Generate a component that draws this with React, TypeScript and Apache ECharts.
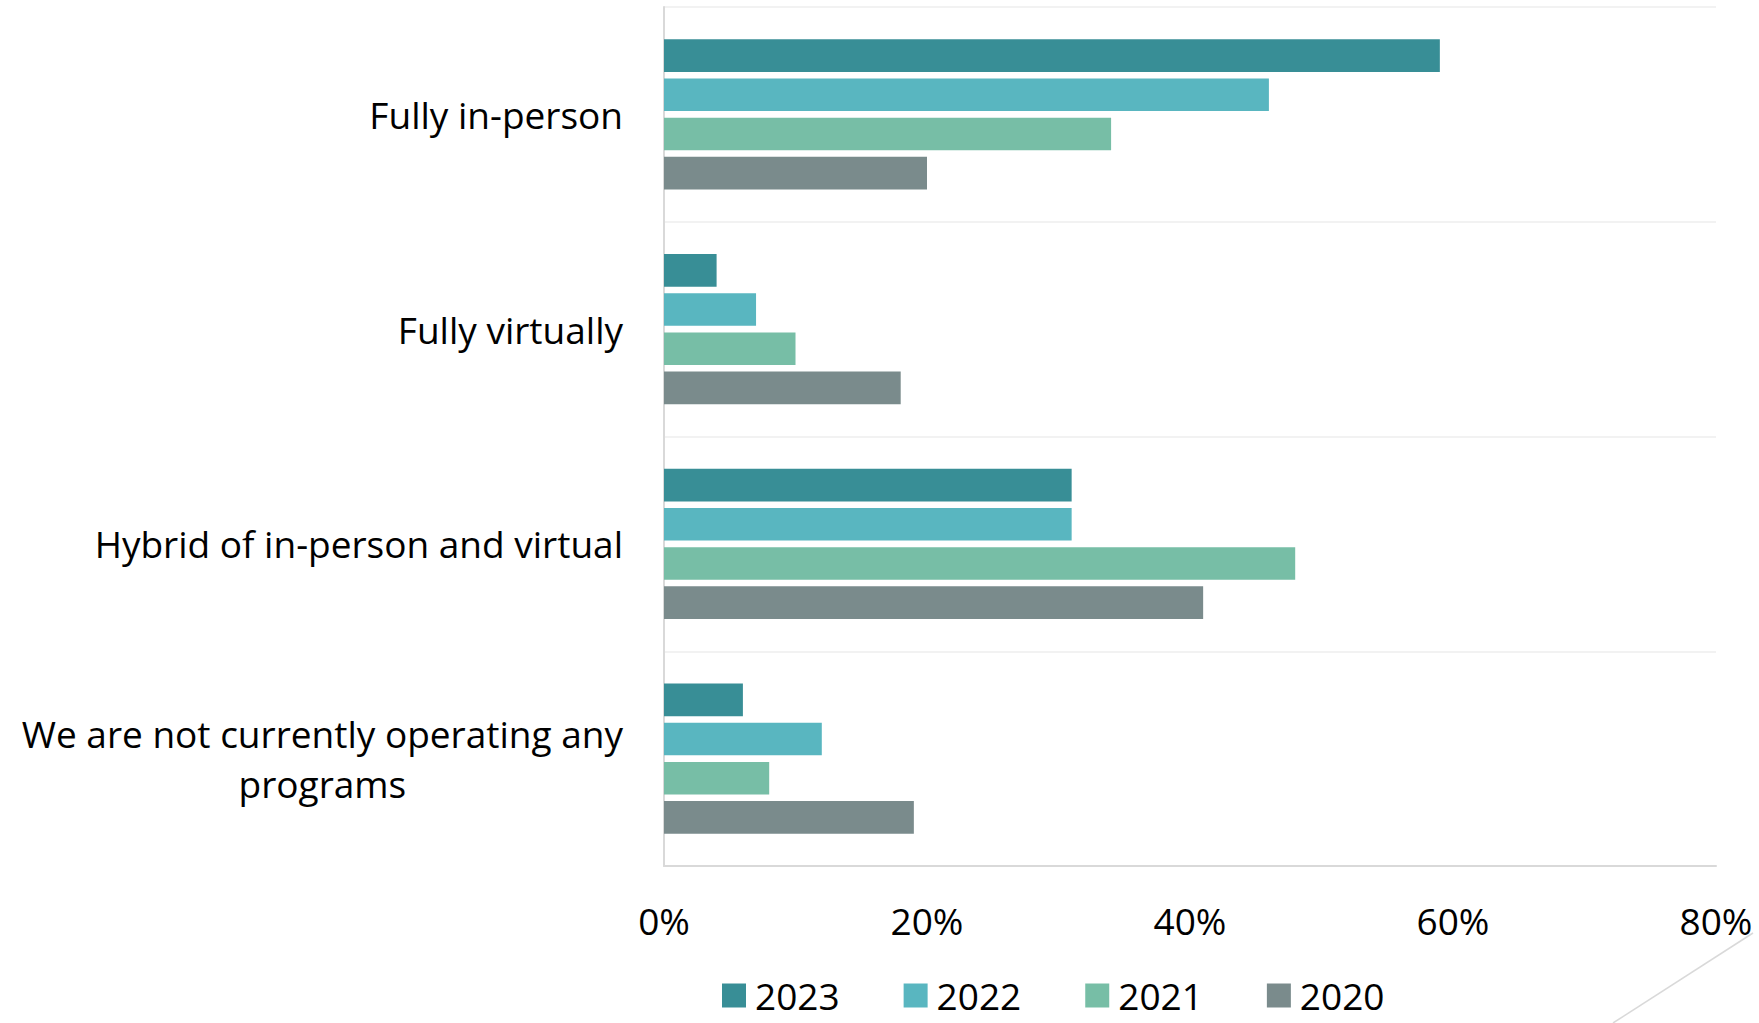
import React, { useEffect, useRef } from "react";
import * as echarts from "echarts";

const categories = [
  "Fully in-person",
  "Fully virtually",
  "Hybrid of in-person and virtual",
  "We are not currently operating any\nprograms",
];
const years = ["2023", "2022", "2021", "2020"];
const values2023 = [59, 4, 31, 6];
const values2022 = [46, 7, 31, 12];
const values2021 = [34, 10, 48, 8];
const values2020 = [20, 18, 41, 19];
const colors = ["#388E96", "#59B6C0", "#77BEA6", "#7A8B8C"];
const xMin = 0;
const xMax = 80;
const xInterval = 20;

const FONT = "Open Sans";

export default function App() {
  const ref = useRef<HTMLDivElement>(null);
  useEffect(() => {
    if (!ref.current) return;
    const chart = echarts.init(ref.current, null, { renderer: "svg" });
    const seriesValues = [values2023, values2022, values2021, values2020];
    chart.setOption({
      animation: false,
      backgroundColor: "#ffffff",
      grid: { left: 664, right: 43, top: 7, bottom: 157, containLabel: false },
      legend: {
        data: years,
        left: 722,
        top: 977,
        padding: 0,
        icon: "rect",
        itemWidth: 24,
        itemHeight: 24,
        itemGap: 64,
        textStyle: {
          fontFamily: FONT,
          fontSize: 37,
          color: "#000",
          lineHeight: 36,
          padding: [0, 0, 0, 4],
        },
      },
      xAxis: {
        type: "value",
        min: xMin,
        max: xMax,
        interval: xInterval,
        axisLine: { show: true, lineStyle: { color: "#D9D9D9", width: 2 } },
        axisTick: { show: false },
        splitLine: { show: false },
        axisLabel: {
          formatter: "{value}%",
          fontFamily: FONT,
          fontSize: 37,
          color: "#000",
          margin: 36,
        },
      },
      yAxis: {
        type: "category",
        inverse: true,
        data: categories,
        axisLine: { show: true, lineStyle: { color: "#D9D9D9", width: 2 } },
        axisTick: { show: false },
        splitLine: { show: true, lineStyle: { color: "#F2F2F2", width: 2 } },
        axisLabel: {
          margin: 41,
          formatter: (v: string) =>
            v
              .split("\n")
              .map((l) => `{c|${l}}`)
              .join("\n"),
          rich: {
            c: {
              align: "center",
              fontFamily: FONT,
              fontSize: 37,
              color: "#000",
              lineHeight: 50,
            },
          },
        },
      },
      series: years.map((y, i) => ({
        name: y,
        type: "bar",
        data: seriesValues[i],
        barGap: "20%",
        barCategoryGap: "30%",
        itemStyle: { color: colors[i] },
      })),
      graphic: [
        {
          type: "line",
          shape: { x1: 1753, y1: 933, x2: 1613, y2: 1023 },
          style: { stroke: "#D9D9D9", lineWidth: 1.5 },
          silent: true,
        },
      ],
    });
    return () => chart.dispose();
  }, []);
  return (
    <div
      ref={ref}
      style={{ position: "absolute", left: 0, top: 0, width: 1759, height: 1023 }}
    />
  );
}
